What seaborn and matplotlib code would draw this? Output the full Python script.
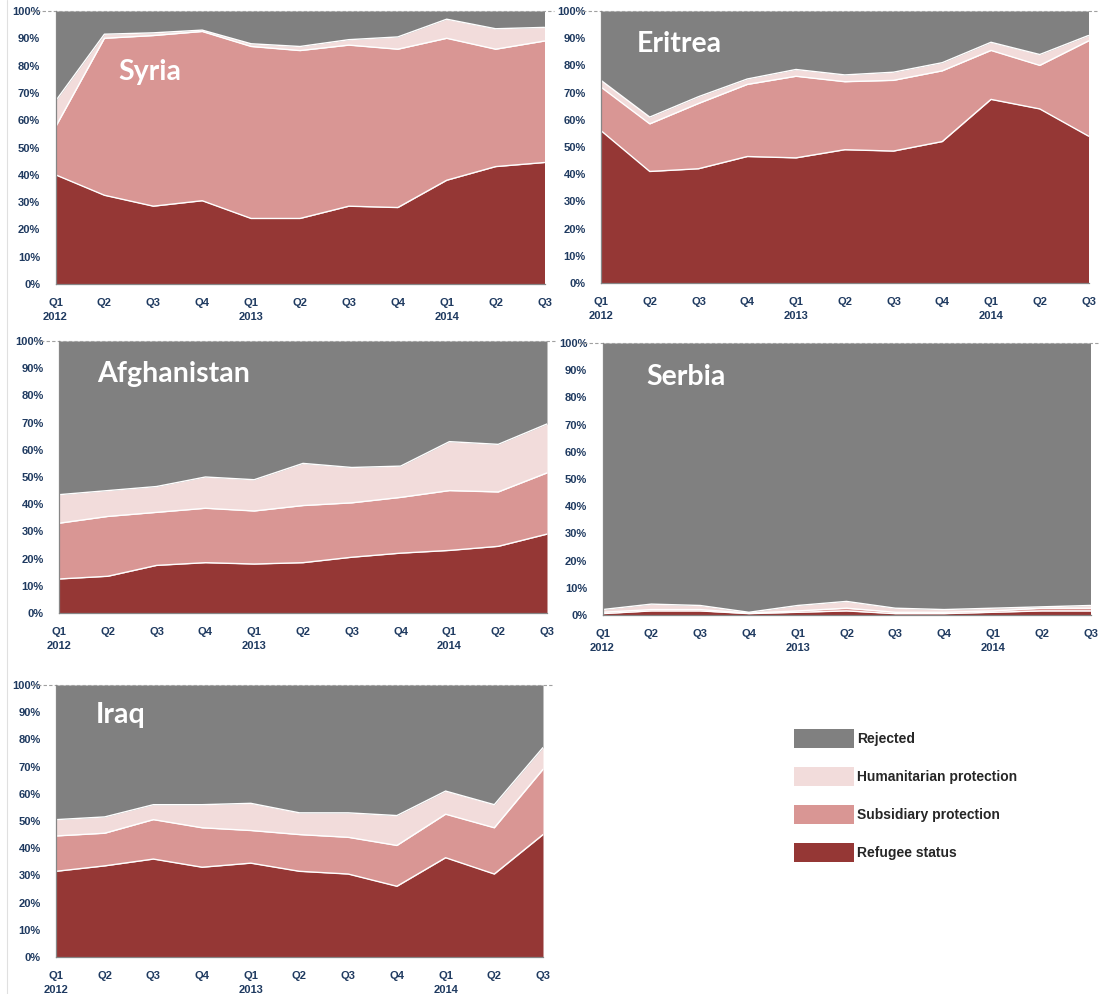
import numpy as np
import pandas as pd
import seaborn as sns
import matplotlib.pyplot as plt
from matplotlib.patches import Patch
from matplotlib.lines import Line2D

# quarters on the x axis
quarters = ['Q1\n2012', 'Q2', 'Q3', 'Q4', 'Q1\n2013', 'Q2', 'Q3', 'Q4', 'Q1\n2014', 'Q2', 'Q3']
categories = ['Refugee status', 'Subsidiary protection', 'Humanitarian protection', 'Rejected']

# shares of decisions (%) per quarter
syria_refugee = [40, 32.5, 28.5, 30.5, 24, 24, 28.5, 28, 38, 43, 44.5]
syria_subsidiary = [17.5, 57.5, 62.5, 62, 63, 61.5, 59, 58, 52, 43, 44.5]
syria_humanitarian = [9.5, 1.5, 1, 0.5, 1, 1.5, 2, 4.5, 7, 7.5, 5]
syria_rejected = [33, 8.5, 8, 7, 12, 13, 10.5, 9.5, 3, 6.5, 6]

eritrea_refugee = [56, 41, 42, 46.5, 46, 49, 48.5, 52, 67.5, 64, 54]
eritrea_subsidiary = [16, 17.5, 24, 26.5, 30, 25, 26, 26, 18, 16, 35]
eritrea_humanitarian = [2.5, 2.5, 2.5, 2, 2.5, 2.5, 3, 3, 3, 4, 2]
eritrea_rejected = [25.5, 39, 31.5, 25, 21.5, 23.5, 22.5, 19, 11.5, 16, 9]

afghanistan_refugee = [12.5, 13.5, 17.5, 18.5, 18, 18.5, 20.5, 22, 23, 24.5, 29]
afghanistan_subsidiary = [20.5, 22, 19.5, 20, 19.5, 21, 20, 20.5, 22, 20, 22.5]
afghanistan_humanitarian = [10.5, 9.5, 9.5, 11.5, 11.5, 15.5, 13, 11.5, 18, 17.5, 18]
afghanistan_rejected = [56.5, 55, 53.5, 50, 51, 45, 46.5, 46, 37, 38, 30.5]

serbia_refugee = [0.5, 1.5, 1.5, 0.5, 1, 1.5, 0.5, 0.5, 1, 1.5, 1.5]
serbia_subsidiary = [0.5, 0.5, 0.5, 0.2, 0.5, 1, 0.5, 0.5, 0.5, 1, 1]
serbia_humanitarian = [1, 2, 1.5, 0.3, 2, 2.5, 1.5, 1, 1, 0.5, 1]
serbia_rejected = [98, 96, 96.5, 99, 96.5, 95, 97.5, 98, 97.5, 97, 96.5]

iraq_refugee = [31.5, 33.5, 36, 33, 34.5, 31.5, 30.5, 26, 36.5, 30.5, 45]
iraq_subsidiary = [13, 12, 14.5, 14.5, 12, 13.5, 13.5, 15, 16, 17, 24]
iraq_humanitarian = [6, 6, 5.5, 8.5, 10, 8, 9, 11, 8.5, 8.5, 8]
iraq_rejected = [49.5, 48.5, 44, 44, 43.5, 47, 47, 48, 39, 44, 23]

countries = {
    'Syria': [syria_refugee, syria_subsidiary, syria_humanitarian, syria_rejected],
    'Eritrea': [eritrea_refugee, eritrea_subsidiary, eritrea_humanitarian, eritrea_rejected],
    'Afghanistan': [afghanistan_refugee, afghanistan_subsidiary, afghanistan_humanitarian, afghanistan_rejected],
    'Serbia': [serbia_refugee, serbia_subsidiary, serbia_humanitarian, serbia_rejected],
    'Iraq': [iraq_refugee, iraq_subsidiary, iraq_humanitarian, iraq_rejected],
}

colors = ['#953735', '#D99694', '#F2DCDB', '#808080']
tick_color = '#1F3A60'

# layout in pixels: left, top, right, bottom of plot area
W, H = 1104, 994
boxes = {
    'Syria': (55.5, 11, 544.5, 284),
    'Eritrea': (601, 11, 1088.5, 283),
    'Afghanistan': (59, 341, 547, 613),
    'Serbia': (602.5, 343, 1090.5, 615),
    'Iraq': (56, 685, 543, 957),
}
title_pos = {
    'Syria': (0.128, 0.775),
    'Eritrea': (0.074, 0.88),
    'Afghanistan': (0.078, 0.88),
    'Serbia': (0.09, 0.875),
    'Iraq': (0.082, 0.89),
}

sns.set_theme(style='white')
plt.rcParams['font.family'] = ['Liberation Sans', 'DejaVu Sans']

fig = plt.figure(figsize=(W / 100, H / 100), dpi=100)

# faint chart border on the left
fig.add_artist(Line2D([7 / W, 7 / W], [0, 1], color='#E0E0E0', linewidth=0.8))

x = np.arange(len(quarters))
for name, layers in countries.items():
    l, t, r, b = boxes[name]
    ax = fig.add_axes([l / W, 1 - b / H, (r - l) / W, (b - t) / H])
    ax.stackplot(x, *layers, colors=colors, linewidth=0)

    # white separation lines between the layers
    cum = np.cumsum(np.array(layers[:3]), axis=0)
    for row in cum:
        df = pd.DataFrame({'q': x, 'v': row})
        sns.lineplot(data=df, x='q', y='v', ax=ax, color='white', linewidth=1.0)

    ax.set_xlim(0, len(quarters) - 1)
    ax.set_ylim(0, 100)
    ax.set_xlabel('')
    ax.set_ylabel('')
    ax.set_xticks(x)
    ax.set_xticklabels(quarters, fontsize=8, fontweight='bold', color=tick_color, linespacing=1.5)
    ax.set_yticks(range(0, 101, 10))
    ax.set_yticklabels([f'{v}%' for v in range(0, 101, 10)], fontsize=8,
                       fontweight='bold', color=tick_color)
    ax.tick_params(axis='both', direction='out', length=5, width=0.8, color='#868686')
    ax.tick_params(axis='y', pad=6)
    ax.tick_params(axis='x', pad=5)
    for s in ['top', 'right']:
        ax.spines[s].set_visible(False)
    for s in ['left', 'bottom']:
        ax.spines[s].set_color('#868686')
        ax.spines[s].set_linewidth(0.9)
    ax.axhline(100, xmin=-0.05, xmax=1.02, color='#A0A0A0', linestyle=(0, (3, 2)),
               linewidth=0.8, clip_on=False)

    tx, ty = title_pos[name]
    ax.text(tx, ty, name, transform=ax.transAxes, color='white', fontsize=20.5,
            fontweight='bold', family='Lato', va='center', ha='left')

handles = [Patch(facecolor=colors[i], edgecolor='none', label=categories[i]) for i in [3, 2, 1, 0]]
fig.legend(handles=handles, loc='upper left', bbox_to_anchor=(787 / W, 1 - 722 / H),
           frameon=False, borderpad=0, handlelength=4.32, handleheight=1.73,
           labelspacing=1.37, handletextpad=0.22,
           prop={'family': 'Liberation Sans', 'weight': 'bold', 'size': 10})

fig.savefig('out.png', dpi=100)
